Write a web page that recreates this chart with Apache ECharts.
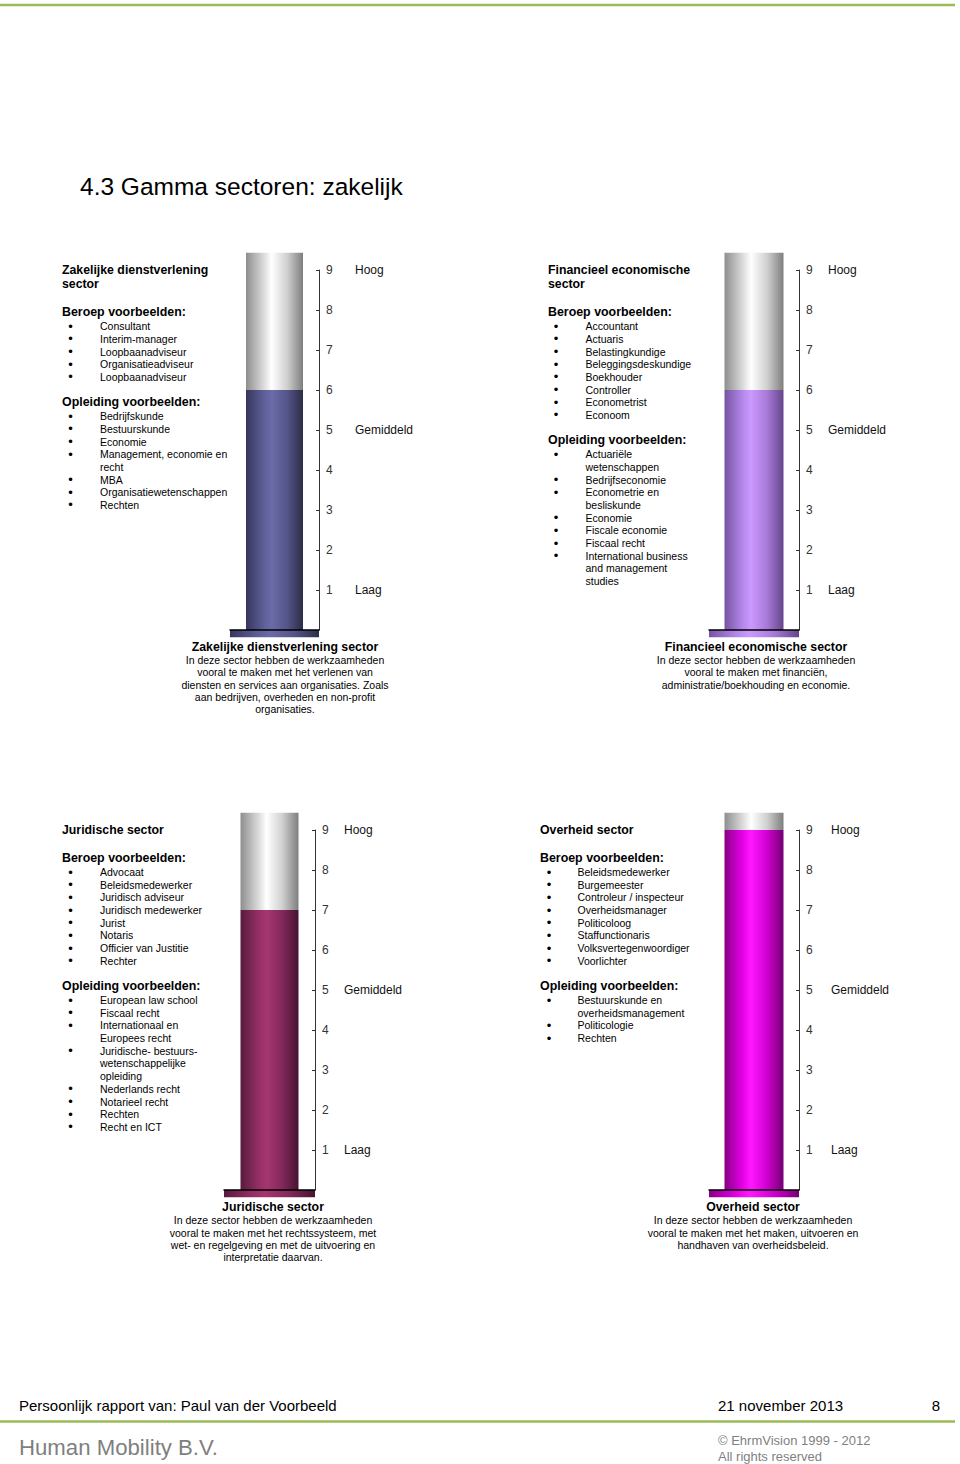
<!DOCTYPE html>
<html>
<head>
<meta charset="utf-8">
<script src="https://cdn.jsdelivr.net/npm/echarts@6/dist/echarts.min.js"></script>
<style>
html,body{margin:0;padding:0;background:#fff;}
#c{width:960px;height:1464px;}
</style>
</head>
<body>
<div id="c"></div>
<script>
// ---------- DATA ----------
const sectorNames = ['Zakelijke dienstverlening sector', 'Financieel economische sector', 'Juridische sector', 'Overheid sector'];
const scores = [6, 6, 7, 9];
const tubeTop = 9.43;             // height of the (empty) tube on the 1-9 scale
const tickLabels = ['', 'Laag', '', '', '', 'Gemiddeld', '', '', '', 'Hoog'];

const headings = [
  ['Zakelijke dienstverlening', 'sector'],
  ['Financieel economische', 'sector'],
  ['Juridische sector'],
  ['Overheid sector']
];
const beroepen = [
  ['Consultant', 'Interim-manager', 'Loopbaanadviseur', 'Organisatieadviseur', 'Loopbaanadviseur'],
  ['Accountant', 'Actuaris', 'Belastingkundige', 'Beleggingsdeskundige', 'Boekhouder', 'Controller', 'Econometrist', 'Econoom'],
  ['Advocaat', 'Beleidsmedewerker', 'Juridisch adviseur', 'Juridisch medewerker', 'Jurist', 'Notaris', 'Officier van Justitie', 'Rechter'],
  ['Beleidsmedewerker', 'Burgemeester', 'Controleur / inspecteur', 'Overheidsmanager', 'Politicoloog', 'Staffunctionaris', 'Volksvertegenwoordiger', 'Voorlichter']
];
const opleidingen = [
  ['Bedrijfskunde', 'Bestuurskunde', 'Economie', 'Management, economie en|recht', 'MBA', 'Organisatiewetenschappen', 'Rechten'],
  ['Actuariële|wetenschappen', 'Bedrijfseconomie', 'Econometrie en|besliskunde', 'Economie', 'Fiscale economie', 'Fiscaal recht', 'International business|and management|studies'],
  ['European law school', 'Fiscaal recht', 'Internationaal en|Europees recht', 'Juridische- bestuurs-|wetenschappelijke|opleiding', 'Nederlands recht', 'Notarieel recht', 'Rechten', 'Recht en ICT'],
  ['Bestuurskunde en|overheidsmanagement', 'Politicologie', 'Rechten']
];
const captions = [
  ['In deze sector hebben de werkzaamheden', 'vooral te maken met het verlenen van', 'diensten en services aan organisaties. Zoals', 'aan bedrijven, overheden en non-profit', 'organisaties.'],
  ['In deze sector hebben de werkzaamheden', 'vooral te maken met financiën,', 'administratie/boekhouding en economie.'],
  ['In deze sector hebben de werkzaamheden', 'vooral te maken met het rechtssysteem, met', 'wet- en regelgeving en met de uitvoering en', 'interpretatie daarvan.'],
  ['In deze sector hebben de werkzaamheden', 'vooral te maken met het maken, uitvoeren en', 'handhaven van overheidsbeleid.']
];
const pageTitle = '4.3 Gamma sectoren: zakelijk';
const footerName = 'Persoonlijk rapport van: Paul van der Voorbeeld';
const footerDate = '21 november 2013';
const footerPage = '8';
const footerCompany = 'Human Mobility B.V.';
const footerCopy = ['© EhrmVision 1999 - 2012', 'All rights reserved'];

// ---------- LAYOUT / STYLE ----------
const FF = '"Liberation Sans", Arial, Helvetica, sans-serif';
const grids = [
  {left: 230, top: 270, width: 89, bar: 57, gap: 29},
  {left: 709, top: 270, width: 90, bar: 59, gap: 22},
  {left: 224, top: 830, width: 91, bar: 58, gap: 22},
  {left: 709, top: 830, width: 90, bar: 59, gap: 25}
];
const plateDepth = -0.18;
const blockPos = [
  {x: 62, bx: 70.5, ix: 100, y: 270},
  {x: 548, bx: 556, ix: 585.5, y: 270},
  {x: 62, bx: 70.5, ix: 100, y: 830},
  {x: 540, bx: 549, ix: 577.5, y: 830}
];
const capPos = [
  {cx: 285, y: 646.7},
  {cx: 756, y: 646.7},
  {cx: 273, y: 1207},
  {cx: 753, y: 1207}
];
const fillStops = [
  ['#36365c', '#5d5d96', '#6b6ba8', '#55558a', '#2c2c48'],
  ['#7654a0', '#b386ea', '#cc99ff', '#a77ad8', '#65458a'],
  ['#561c3c', '#922e64', '#a63670', '#83285a', '#461430'],
  ['#860086', '#e400e4', '#ff18ff', '#d000d0', '#740074']
];
const grayStops = ['#8e8e8e', '#d8d8d8', '#ffffff', '#d0d0d0', '#7e7e7e'];
function grad(c) {
  const offs = [0, 0.3, 0.45, 0.72, 1];
  return {type: 'linear', x: 0, y: 0, x2: 1, y2: 0,
    colorStops: c.map((col, i) => ({offset: offs[i], color: col}))};
}

// ---------- TEXT GRAPHICS ----------
const graphics = [];
function txt(x, y, text, font, fill, align) {
  graphics.push({
    type: 'text', x: x, y: y, silent: true,
    style: {text: text, font: font, fill: fill || '#000',
      align: align || 'left', verticalAlign: 'middle',
      textAlign: align || 'left', textVerticalAlign: 'middle'}
  });
}
function hline(y, x1, x2, color, w) {
  graphics.push({type: 'line', silent: true,
    shape: {x1: x1, y1: y, x2: x2, y2: y},
    style: {stroke: color, lineWidth: w}});
}

const fHead = 'bold 12.3px ' + FF;
const fSect = 'bold 12.4px ' + FF;
const fItem = '10.5px ' + FF;
const fBullet = '13px ' + FF;
const HEAD_STEP = 14.2, ITEM_STEP = 12.68;

hline(5, 0, 955, '#9bbb59', 2.5);
txt(80, 186.5, pageTitle, '24.5px ' + FF, '#000');

function list(p, items, yStart) {
  let y = yStart;
  items.forEach((it, k) => {
    const lines = it.split('|');
    lines.forEach((ln, j) => {
      if (j === 0) txt(p.bx, y, '•', fBullet, '#000', 'center');
      txt(p.ix, y, ln, fItem, '#000');
      if (!(k === items.length - 1 && j === lines.length - 1)) y += ITEM_STEP;
    });
  });
  return y;
}

blockPos.forEach((p, i) => {
  let y = p.y;
  headings[i].forEach((h, j) => {
    if (j > 0) y += HEAD_STEP;
    txt(p.x, y, h, fHead, '#000');
  });
  y += 28;
  txt(p.x, y, 'Beroep voorbeelden:', fSect, '#000');
  y = list(p, beroepen[i], y + 14);
  y += 25.3;
  txt(p.x, y, 'Opleiding voorbeelden:', fSect, '#000');
  list(p, opleidingen[i], y + 14);
});

capPos.forEach((c, i) => {
  txt(c.cx, c.y, sectorNames[i], fHead, '#000', 'center');
  captions[i].forEach((ln, j) => {
    txt(c.cx, c.y + 13.2 + j * 12.3, ln, fItem, '#000', 'center');
  });
});

txt(19, 1405, footerName, '15px ' + FF, '#000');
txt(718, 1405, footerDate, '15px ' + FF, '#000');
txt(940, 1405, footerPage, '15px ' + FF, '#000', 'right');
hline(1421.5, 0, 955, '#9bbb59', 2.5);
txt(19, 1447, footerCompany, '22.2px ' + FF, '#7f7f7f');
txt(718, 1440.5, footerCopy[0], '13px ' + FF, '#7f7f7f');
txt(718, 1456.5, footerCopy[1], '13px ' + FF, '#7f7f7f');

// ---------- CHART OPTION ----------
const option = {
  animation: false,
  grid: grids.map(g => ({left: g.left, top: g.top, width: g.width, height: 360})),
  xAxis: [],
  yAxis: [],
  series: [],
  graphic: {elements: graphics}
};

grids.forEach((g, i) => {
  option.xAxis.push({
    type: 'category', gridIndex: i, data: [sectorNames[i]], z: 5,
    axisLine: {show: true, lineStyle: {color: '#000', width: 1.5}},
    axisTick: {show: false}, axisLabel: {show: false}, splitLine: {show: false}
  });
  option.yAxis.push({
    type: 'value', gridIndex: i, position: 'right', min: 0, max: 9, interval: 1,
    axisLine: {show: true, lineStyle: {color: '#333', width: 1}},
    axisTick: {show: true, inside: true, length: 3, lineStyle: {color: '#333'}},
    splitLine: {show: false},
    axisLabel: {
      margin: 7,
      formatter: function (v) {
        const k = Math.round(v);
        if (k <= 0) return '';
        const t = tickLabels[k];
        return '{n|' + k + '}' + (t ? '{t|' + t + '}' : '');
      },
      rich: {
        n: {width: g.gap, font: '14px ' + FF, color: '#333'},
        t: {font: '12.3px ' + FF, color: '#111'}
      }
    }
  });
});
grids.forEach((g, i) => {
  option.xAxis.push({
    type: 'category', gridIndex: i, data: [sectorNames[i]], show: false
  });
});

grids.forEach((g, i) => {
  option.series.push({
    type: 'bar', name: sectorNames[i], xAxisIndex: i, yAxisIndex: i, stack: 's' + i,
    data: [scores[i]], barWidth: g.bar, clip: false, silent: true,
    itemStyle: {color: grad(fillStops[i])}
  });
  option.series.push({
    type: 'bar', name: sectorNames[i] + ' rest', xAxisIndex: i, yAxisIndex: i, stack: 's' + i,
    data: [tubeTop - scores[i]], barWidth: g.bar, clip: false, silent: true,
    itemStyle: {color: grad(grayStops)}
  });
  option.series.push({
    type: 'bar', name: sectorNames[i] + ' voet', xAxisIndex: 4 + i, yAxisIndex: i,
    data: [plateDepth], barWidth: '100%', clip: false, silent: true,
    itemStyle: {color: grad(fillStops[i])}
  });
});

const chart = echarts.init(document.getElementById('c'), null, {renderer: 'svg', width: 960, height: 1464});
chart.setOption(option);
</script>
</body>
</html>
